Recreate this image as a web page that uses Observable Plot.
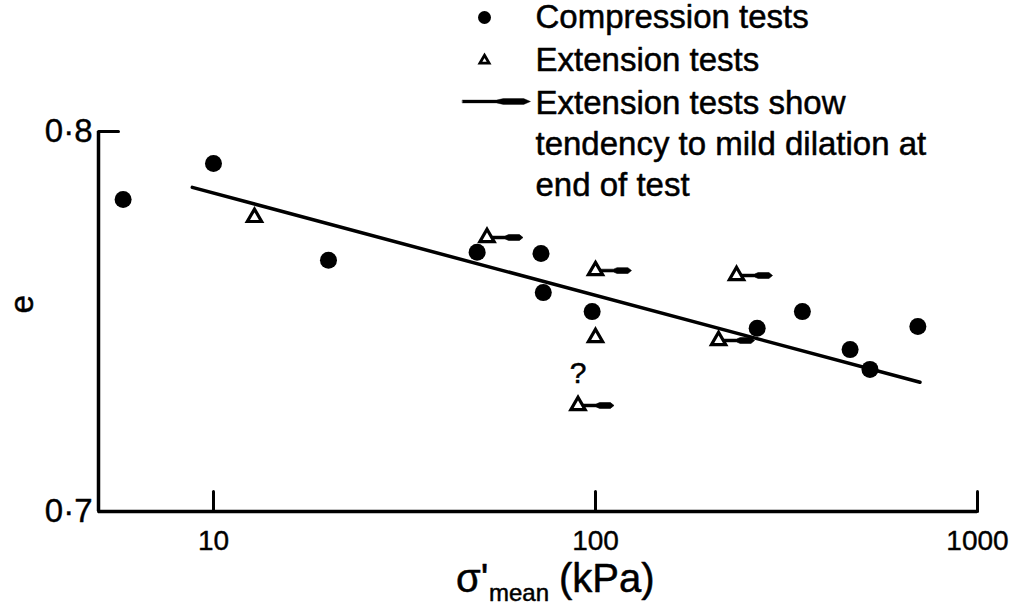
<!DOCTYPE html>
<html>
<head>
<meta charset="utf-8">
<script src="https://cdn.jsdelivr.net/npm/d3@7"></script>
<script src="https://cdn.jsdelivr.net/npm/@observablehq/plot@0.6"></script>
<style>
  html, body { margin: 0; padding: 0; background: #fff; }
  #chart svg { display: block; }
</style>
</head>
<body>
<div id="chart"></div>
<script>
// Void ratio e against mean effective stress (log scale)

// Compression tests (filled circles)
const compStress = [5.8, 10, 20, 49, 72, 73, 98, 265, 348, 464, 523, 698];
const compE = [0.7821, 0.7916, 0.7661, 0.7682, 0.7679, 0.7576, 0.7526, 0.7482, 0.7526, 0.7426, 0.7374, 0.7487];

// Extension tests (open triangles); dilation flags those that dilated at end of test
const extStress = [12.8, 52, 100, 100, 90, 234, 210];
const extE = [0.7774, 0.7721, 0.7634, 0.7458, 0.7279, 0.7621, 0.7450];
const extDilation = [false, true, true, false, true, true, true];
const extNote = ["", "", "", "", "?", "", ""];

// Trend line
const trendStress = [8.8, 707];
const trendE = [0.7853, 0.7340];

// Axes
const xDomain = [5, 1000];
const yDomain = [0.7, 0.8];
const xTicks = [10, 100, 1000];
const xTickLabels = ["10", "100", "1000"];
const yTicks = [0.7, 0.8];
const yTickLabels = ["0·7", "0·8"];

// Legend
const legendLabels = ["Compression tests", "Extension tests", "Extension tests show\ntendency to mild dilation at\nend of test"];

const comp = compStress.map((s, i) => ({s, e: compE[i]}));
const ext = extStress.map((s, i) => ({s, e: extE[i], dil: extDilation[i], note: extNote[i]}));
const trend = trendStress.map((s, i) => ({s, e: trendE[i]}));

// straight inward tick
const tickShape = {draw(ctx, l) { ctx.moveTo(0, 0); ctx.lineTo(0, -l); }};
// thin stroke ending in a thicker blob
const tailShape = {
  draw(ctx, l) {
    const w1 = 1.4, w2 = 2.9;
    ctx.moveTo(-w1, 0);
    ctx.lineTo(-w1, -l * 0.5);
    ctx.lineTo(-w2, -l * 0.6);
    ctx.lineTo(-w2, -l * 0.9);
    ctx.lineTo(0, -l);
    ctx.lineTo(w2, -l * 0.9);
    ctx.lineTo(w2, -l * 0.6);
    ctx.lineTo(w1, -l * 0.5);
    ctx.lineTo(w1, 0);
    ctx.closePath();
  }
};

const font = "'Liberation Sans', Arial, Helvetica, sans-serif";
const ink = {fill: "#000", stroke: "#000", strokeWidth: 0.5};

const chart = Plot.plot({
  width: 1011,
  height: 604,
  marginLeft: 98,
  marginRight: 34,
  marginTop: 131,
  marginBottom: 93,
  x: {type: "log", domain: xDomain},
  y: {domain: yDomain},
  style: {fontFamily: font, background: "#fff", color: "#000", overflow: "visible"},
  marks: [
    // axis frame
    Plot.ruleX([xDomain[0]], {strokeWidth: 3.5}),
    Plot.ruleY([yDomain[0]], {strokeWidth: 3.5}),
    Plot.vector(xTicks, {x: d => d, y: yDomain[0], length: 20, rotate: 0, anchor: "start", shape: tickShape, strokeWidth: 3}),
    Plot.vector(yTicks, {x: xDomain[0], y: d => d, length: 20, rotate: 90, anchor: "start", shape: tickShape, strokeWidth: 3}),
    Plot.axisX(xTicks, {tickSize: 0, tickPadding: 19, tickFormat: d => xTickLabels[xTicks.indexOf(d)], fontSize: 28, textStroke: "#000", textStrokeWidth: 0.4, label: null}),
    Plot.axisY(yTicks, {tickSize: 0, tickPadding: 6, tickFormat: d => yTickLabels[yTicks.indexOf(d)], fontSize: 33, textStroke: "#000", textStrokeWidth: 0.4, label: null}),

    // trend line
    Plot.line(trend, {x: "s", y: "e", strokeWidth: 3.5}),

    // data
    Plot.dot(comp, {x: "s", y: "e", r: 8.5, fill: "#000", stroke: "none"}),
    Plot.vector(ext.filter(d => d.dil), {x: "s", y: "e", length: 36, rotate: 90, anchor: "start", shape: tailShape, fill: "#000", stroke: "#000", strokeWidth: 0.6}),
    Plot.dot(ext, {x: "s", y: "e", symbol: "triangle", r: 5.3, fill: "#fff", stroke: "#000", strokeWidth: 3.2}),
    Plot.text(ext.filter(d => d.note), {x: "s", y: "e", text: "note", dy: -32, fontSize: 30, ...ink}),

    // axis titles
    Plot.text(["e"], {frameAnchor: "left", dx: -76, dy: -8, rotate: -90, fontSize: 33, ...ink}),
    Plot.text(["σ'"], {frameAnchor: "bottom", textAnchor: "start", lineAnchor: "bottom", dx: -82, dy: 80, fontSize: 40, ...ink}),
    Plot.text(["mean"], {frameAnchor: "bottom", textAnchor: "start", lineAnchor: "bottom", dx: -49, dy: 89, fontSize: 24, ...ink}),
    Plot.text(["(kPa)"], {frameAnchor: "bottom", textAnchor: "start", lineAnchor: "bottom", dx: 21, dy: 80, fontSize: 40, ...ink}),

    // legend
    Plot.dot([legendLabels[0]], {frameAnchor: "top-left", dx: 386, dy: -114, r: 6.5, fill: "#000", stroke: "none"}),
    Plot.dot([legendLabels[1]], {frameAnchor: "top-left", dx: 386, dy: -71, symbol: "triangle", r: 3.4, fill: "#fff", stroke: "#000", strokeWidth: 2.8}),
    Plot.vector([legendLabels[2]], {frameAnchor: "top-left", dx: 364, dy: -30, length: 68, rotate: 90, anchor: "start", shape: tailShape, fill: "#000", stroke: "#000", strokeWidth: 0.4}),
    Plot.text([legendLabels[0]], {frameAnchor: "top-left", dx: 437, dy: -114, textAnchor: "start", lineAnchor: "middle", fontSize: 33, ...ink}),
    Plot.text([legendLabels[1]], {frameAnchor: "top-left", dx: 437, dy: -71, textAnchor: "start", lineAnchor: "middle", fontSize: 33, ...ink}),
    Plot.text([legendLabels[2]], {frameAnchor: "top-left", dx: 437, dy: -47, textAnchor: "start", lineAnchor: "top", lineHeight: 1.25, fontSize: 33, ...ink})
  ]
});

document.getElementById("chart").appendChild(chart);
</script>
</body>
</html>
